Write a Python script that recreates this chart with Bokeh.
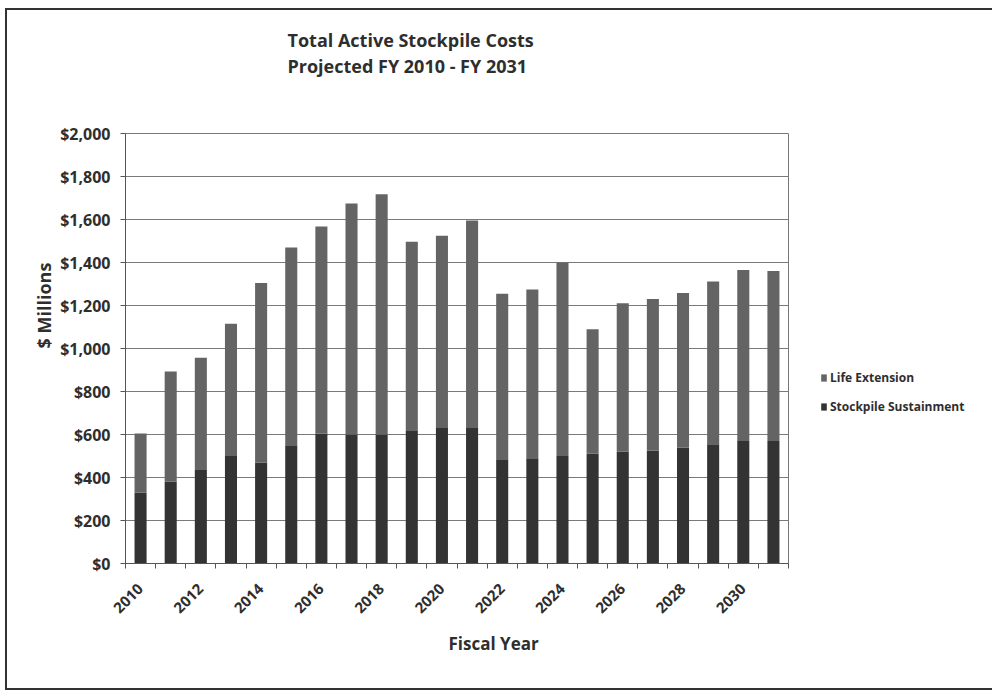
from bokeh.plotting import figure
from bokeh.layouts import column
from bokeh.models import (ColumnDataSource, FixedTicker, NumeralTickFormatter, Legend,
                          LegendItem, Title, Range1d)
from bokeh.embed import file_html
from bokeh.resources import INLINE
import math

years = list(range(2010, 2032))
stockpile_sustainment = [330, 380, 435, 500, 470, 550, 605, 600, 600, 620, 630,
                         630, 485, 490, 500, 510, 520, 525, 540, 555, 570, 570]
life_extension = [275, 513, 522, 615, 835, 920, 963, 1075, 1118, 877, 895,
                  965, 770, 785, 900, 580, 690, 705, 718, 757, 795, 790]
y_ticks = list(range(0, 2001, 200))
x_label_years = list(range(2010, 2031, 2))

FONT = "Open Sans"
TXT = "#2e2e2e"
C_SUST = "#333333"
C_LIFE = "#646464"

src = ColumnDataSource(dict(year=years,
                            sust=stockpile_sustainment,
                            life=life_extension))

# figure sits inside a bordered box starting at (7, 10)
p = figure(frame_width=663, frame_height=430, output_backend="svg", toolbar_location=None,
           x_range=Range1d(years[0] - 0.5, years[-1] + 0.5),
           y_range=Range1d(0, 2000),
           min_border_left=118, min_border_right=204,
           min_border_top=123, min_border_bottom=125)
p.background_fill_color = "white"
p.border_fill_color = "white"
p.outline_line_color = "#777777"
p.outline_line_width = 1

rs = p.vbar_stack(["sust", "life"], x="year", width=0.4, source=src,
                  color=[C_SUST, C_LIFE], line_color=None)

p.xgrid.grid_line_color = None
p.ygrid.grid_line_color = "#7a7a7a"
p.ygrid.grid_line_width = 1
p.yaxis.ticker = FixedTicker(ticks=y_ticks)

p.yaxis.formatter = NumeralTickFormatter(format="$0,0")
p.yaxis.major_label_text_font = FONT
p.yaxis.major_label_text_font_style = "bold"
p.yaxis.major_label_text_font_size = "16px"
p.yaxis.major_label_text_color = TXT
p.yaxis.major_label_standoff = 10
p.yaxis.axis_line_color = "#555555"
p.yaxis.major_tick_line_color = "#555555"
p.yaxis.major_tick_out = 5
p.yaxis.major_tick_in = 0
p.yaxis.minor_tick_line_color = None

p.xaxis.ticker = FixedTicker(ticks=x_label_years,
                             minor_ticks=[y - 0.5 for y in years] + [years[-1] + 0.5])
p.xaxis.major_label_orientation = math.pi / 4
p.xaxis.major_label_text_font = FONT
p.xaxis.major_label_text_font_style = "bold"
p.xaxis.major_label_text_font_size = "15px"
p.xaxis.major_label_text_color = TXT
p.xaxis.major_label_standoff = 17
p.xaxis.major_tick_line_color = None
p.xaxis.minor_tick_line_color = "#555555"
p.xaxis.minor_tick_out = 5
p.xaxis.minor_tick_in = 0
p.xaxis.axis_line_color = "#555555"

# axis titles (placed like the original, off-centre)
p.add_layout(Title(text="$ Millions", align="left", offset=215, standoff=4,
                   text_font=FONT, text_font_style="bold", text_font_size="18px",
                   text_color=TXT), "left")
p.add_layout(Title(text="Fiscal Year", align="left", offset=323, standoff=19,
                   text_font=FONT, text_font_style="bold", text_font_size="17px",
                   text_color=TXT), "below")

# chart titles
p.add_layout(Title(text=" ", text_font_size="40px"), "above")
p.add_layout(Title(text="Projected FY 2010 - FY 2031", align="left", offset=162,
                   standoff=0, text_font=FONT, text_font_style="bold",
                   text_font_size="18px", text_color=TXT), "above")
p.add_layout(Title(text="Total Active Stockpile Costs", align="left", offset=162,
                   standoff=0, text_font=FONT, text_font_style="bold",
                   text_font_size="18px", text_color=TXT), "above")

# legend in the right margin
blank = [LegendItem(label=" ", renderers=[]) for _ in range(3)]
legend = Legend(items=blank + [LegendItem(label="Life Extension", renderers=[rs[1]]),
                               LegendItem(label="Stockpile Sustainment", renderers=[rs[0]])],
                location="center_left", border_line_color=None, background_fill_alpha=0,
                label_text_font=FONT, label_text_font_style="bold",
                label_text_font_size="12px", label_text_color=TXT,
                glyph_width=7, glyph_height=9, label_height=18, spacing=11,
                padding=0, margin=32, label_standoff=3)
p.add_layout(legend, "right")

layout = column(p, styles={"margin-left": "5px", "margin-top": "8px",
                           "border-left": "2px solid #333333",
                           "border-top": "2px solid #333333",
                           "border-bottom": "2px solid #333333"})

open("out.html", "w").write(file_html(layout, INLINE))
